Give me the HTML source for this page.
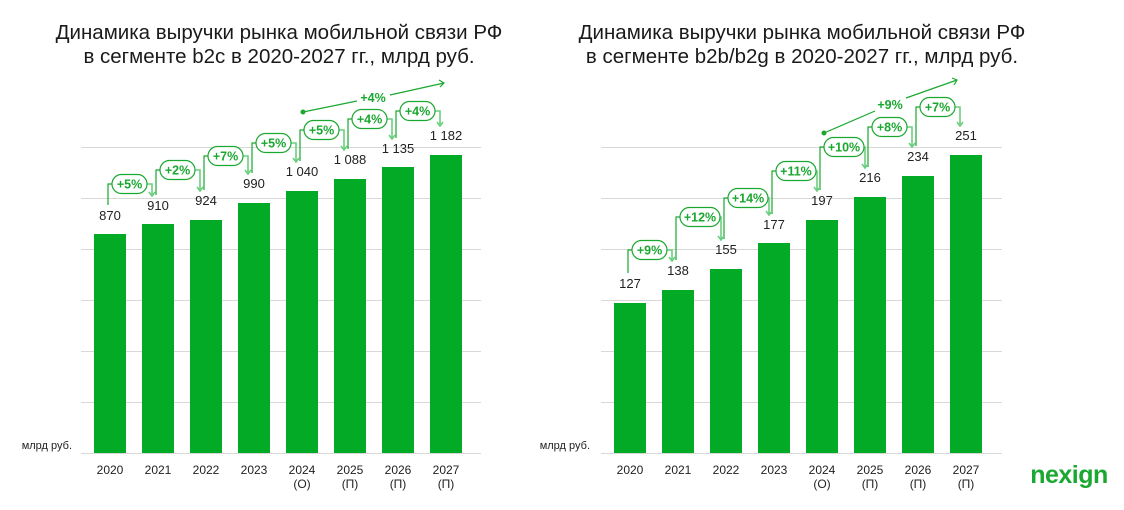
<!DOCTYPE html>
<html><head><meta charset="utf-8"><style>
html,body{margin:0;padding:0;background:#fff;}
svg{display:block;font-family:"Liberation Sans",sans-serif;}
.t{font-size:20.5px;fill:#1a1a1a;text-anchor:middle;}
.v{font-size:13px;fill:#222;text-anchor:middle;}
.y{font-size:12px;fill:#222;text-anchor:middle;}
.p{font-size:12.5px;font-weight:bold;fill:#1aa830;text-anchor:middle;}
.g{stroke:#d8d8d8;stroke-width:1;}
.b{fill:#02aa25;}
.l{stroke:#1aa830;stroke-width:1.2;fill:none;}
.d{stroke:#6ccf80;stroke-width:1.6;fill:none;}
.pill{fill:#fff;stroke:#1aa830;stroke-width:1.2;}
</style></head><body>
<svg width="1124" height="510" viewBox="0 0 1124 510">
<text class="t" x="279" y="39">Динамика выручки рынка мобильной связи РФ</text>
<text class="t" x="279" y="63">в сегменте b2c в 2020-2027 гг., млрд руб.</text>
<text class="t" x="802" y="39">Динамика выручки рынка мобильной связи РФ</text>
<text class="t" x="802" y="63">в сегменте b2b/b2g в 2020-2027 гг., млрд руб.</text>

<!-- LEFT grid -->
<g class="g">
<line x1="81" x2="481" y1="147.5" y2="147.5"/><line x1="81" x2="481" y1="198.5" y2="198.5"/>
<line x1="81" x2="481" y1="249.5" y2="249.5"/><line x1="81" x2="481" y1="300.5" y2="300.5"/>
<line x1="81" x2="481" y1="351.5" y2="351.5"/><line x1="81" x2="481" y1="402.5" y2="402.5"/>
<line x1="81" x2="481" y1="453.5" y2="453.5"/>
</g>
<g class="b">
<rect x="94" y="234" width="32" height="219"/><rect x="142" y="224" width="32" height="229"/>
<rect x="190" y="220" width="32" height="233"/><rect x="238" y="203" width="32" height="250"/>
<rect x="286" y="191" width="32" height="262"/><rect x="334" y="179" width="32" height="274"/>
<rect x="382" y="167" width="32" height="286"/><rect x="430" y="155" width="32" height="298"/>
</g>
<text x="72" y="449" style="font-size:11px;fill:#222;text-anchor:end">млрд руб.</text>
<g class="y">
<text x="110" y="474">2020</text><text x="158" y="474">2021</text><text x="206" y="474">2022</text><text x="254" y="474">2023</text>
<text x="302" y="474">2024</text><text x="350" y="474">2025</text><text x="398" y="474">2026</text><text x="446" y="474">2027</text>
<text x="302" y="488">(О)</text><text x="350" y="488">(П)</text><text x="398" y="488">(П)</text><text x="446" y="488">(П)</text>
</g>
<g class="v">
<text x="110" y="220">870</text><text x="158" y="210">910</text><text x="206" y="205">924</text><text x="254" y="188">990</text>
<text x="302" y="176">1 040</text><text x="350" y="164">1 088</text><text x="398" y="153">1 135</text><text x="446" y="140">1 182</text>
</g>
<g class="l">
<path d="M108 205V184H112"/><path d="M156 195V170H160"/><path d="M204 190V156H208"/><path d="M252 173V143H256"/>
<path d="M300 161V130H304"/><path d="M348 149V119H352"/><path d="M396 138V111H400"/>
</g>
<g class="d">
<path d="M147 184H152V196M149 192L152 196L155 192"/><path d="M195 170H200V191M197 187L200 191L203 187"/>
<path d="M243 156H248V174M245 170L248 174L251 170"/><path d="M291 143H296V162M293 158L296 162L299 158"/>
<path d="M339 130H344V150M341 146L344 150L347 146"/><path d="M387 119H392V139M389 135L392 139L395 135"/>
<path d="M435 111H440V126M437 122L440 126L443 122"/>
</g>
<g>
<rect class="pill" x="112" y="174.5" width="35" height="19" rx="9.5"/><text class="p" x="129.5" y="188.5">+5%</text>
<rect class="pill" x="160" y="160.5" width="35" height="19" rx="9.5"/><text class="p" x="177.5" y="174.5">+2%</text>
<rect class="pill" x="208" y="146.5" width="35" height="19" rx="9.5"/><text class="p" x="225.5" y="160.5">+7%</text>
<rect class="pill" x="256" y="133.5" width="35" height="19" rx="9.5"/><text class="p" x="273.5" y="147.5">+5%</text>
<rect class="pill" x="304" y="120.5" width="35" height="19" rx="9.5"/><text class="p" x="321.5" y="134.5">+5%</text>
<rect class="pill" x="352" y="109.5" width="35" height="19" rx="9.5"/><text class="p" x="369.5" y="123.5">+4%</text>
<rect class="pill" x="400" y="101.5" width="35" height="19" rx="9.5"/><text class="p" x="417.5" y="115.5">+4%</text>
</g>
<circle cx="303" cy="112" r="2.5" fill="#1aa830"/>
<path class="l" d="M303 112L357 101M390 95L444 83M439 80L444 83L440 87"/>
<text class="p" x="373" y="102">+4%</text>

<!-- RIGHT grid -->
<g class="g">
<line x1="601" x2="1002" y1="147.5" y2="147.5"/><line x1="601" x2="1002" y1="198.5" y2="198.5"/>
<line x1="601" x2="1002" y1="249.5" y2="249.5"/><line x1="601" x2="1002" y1="300.5" y2="300.5"/>
<line x1="601" x2="1002" y1="351.5" y2="351.5"/><line x1="601" x2="1002" y1="402.5" y2="402.5"/>
<line x1="601" x2="1002" y1="453.5" y2="453.5"/>
</g>
<g class="b">
<rect x="614" y="303" width="32" height="150"/><rect x="662" y="290" width="32" height="163"/>
<rect x="710" y="269" width="32" height="184"/><rect x="758" y="243" width="32" height="210"/>
<rect x="806" y="220" width="32" height="233"/><rect x="854" y="197" width="32" height="256"/>
<rect x="902" y="176" width="32" height="277"/><rect x="950" y="155" width="32" height="298"/>
</g>
<text x="590" y="449" style="font-size:11px;fill:#222;text-anchor:end">млрд руб.</text>
<g class="y">
<text x="630" y="474">2020</text><text x="678" y="474">2021</text><text x="726" y="474">2022</text><text x="774" y="474">2023</text>
<text x="822" y="474">2024</text><text x="870" y="474">2025</text><text x="918" y="474">2026</text><text x="966" y="474">2027</text>
<text x="822" y="488">(О)</text><text x="870" y="488">(П)</text><text x="918" y="488">(П)</text><text x="966" y="488">(П)</text>
</g>
<g class="v">
<text x="630" y="288">127</text><text x="678" y="275">138</text><text x="726" y="254">155</text><text x="774" y="229">177</text>
<text x="822" y="205">197</text><text x="870" y="182">216</text><text x="918" y="161">234</text><text x="966" y="140">251</text>
</g>
<g class="l">
<path d="M628 273V250H632"/><path d="M676 260V217H680"/><path d="M724 239V198H728"/><path d="M772 214V171H776"/>
<path d="M820 190V147H824"/><path d="M868 167V127H872"/><path d="M916 146V107H920"/>
</g>
<g class="d">
<path d="M667 250H672V261M669 257L672 261L675 257"/><path d="M720 217H721V240M718 236L721 240L724 236"/>
<path d="M768 198H769V215M766 211L769 215L772 211"/><path d="M816 171H817V191M814 187L817 191L820 187"/>
<path d="M864 147H865V168M862 164L865 168L868 164"/><path d="M907 127H912V147M909 143L912 147L915 143"/>
<path d="M955 107H960V126M957 122L960 126L963 122"/>
</g>
<g>
<rect class="pill" x="632" y="240.5" width="35" height="19" rx="9.5"/><text class="p" x="649.5" y="254.5">+9%</text>
<rect class="pill" x="680" y="207.5" width="40" height="19" rx="9.5"/><text class="p" x="700" y="221.5">+12%</text>
<rect class="pill" x="728" y="188.5" width="40" height="19" rx="9.5"/><text class="p" x="748" y="202.5">+14%</text>
<rect class="pill" x="776" y="161.5" width="40" height="19" rx="9.5"/><text class="p" x="796" y="175.5">+11%</text>
<rect class="pill" x="824" y="137.5" width="40" height="19" rx="9.5"/><text class="p" x="844" y="151.5">+10%</text>
<rect class="pill" x="872" y="117.5" width="35" height="19" rx="9.5"/><text class="p" x="889.5" y="131.5">+8%</text>
<rect class="pill" x="920" y="97.5" width="35" height="19" rx="9.5"/><text class="p" x="937.5" y="111.5">+7%</text>
</g>
<circle cx="824" cy="133" r="2.5" fill="#1aa830"/>
<path class="l" d="M824 133L875 111M906 98L957 80M952 78L957 80L954 85"/>
<text class="p" x="890" y="109">+9%</text>

<text x="1069" y="483" style="font-size:25px;font-weight:bold;fill:#1aa830;text-anchor:middle;letter-spacing:-0.5px">nexign</text>
</svg>
</body></html>
